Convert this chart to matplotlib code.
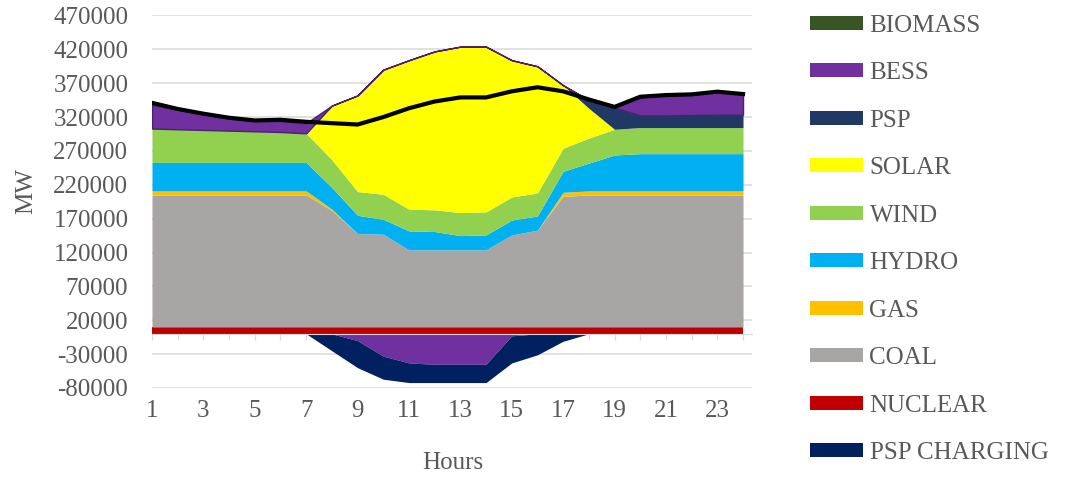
"""
Hourly generation dispatch (stacked areas) with demand line
"""
import matplotlib
matplotlib.use("Agg")
import matplotlib.pyplot as plt
from matplotlib.patches import Patch
import numpy as np

plt.rcParams["font.family"] = ["Liberation Serif", "DejaVu Serif"]
plt.rcParams["axes.unicode_minus"] = False

# ============================================
# DATA (MW per hour)
# ============================================

hours = list(range(1, 25))

nuclear = [10000, 10000, 10000, 10000, 10000, 10000, 10000, 10000, 10000, 10000, 10000, 10000,
           10000, 10000, 10000, 10000, 10000, 10000, 10000, 10000, 10000, 10000, 10000, 10000]
coal = [195000, 195000, 195000, 195000, 195000, 195000, 195000, 172000, 138000, 137000, 114000, 114000,
        114000, 114000, 136000, 143000, 193000, 195000, 195000, 195000, 195000, 195000, 195000, 195000]
gas = [6000, 6000, 6000, 6000, 6000, 6000, 6000, 2000, 0, 0, 0, 0,
       0, 0, 0, 0, 6000, 6000, 6000, 6000, 6000, 6000, 6000, 6000]
hydro = [42000, 42000, 42000, 42000, 42000, 42000, 42000, 32000, 27000, 22000, 28000, 27000,
         21000, 22000, 22000, 21000, 31000, 41000, 53000, 55000, 55000, 55000, 55000, 55000]
wind = [50000, 49000, 48000, 47000, 46000, 45000, 43000, 41000, 35000, 37000, 32000, 32000,
        34000, 34000, 34000, 34000, 34000, 37000, 38000, 38500, 38500, 38500, 38500, 38500]
solar = [0, 0, 0, 0, 0, 0, 0, 80000, 142000, 184000, 220000, 234000,
         245000, 244000, 202000, 187000, 93000, 44000, 0, 0, 0, 0, 0, 0]
psp = [0, 0, 0, 0, 0, 0, 0, 0, 0, 0, 0, 0,
       0, 0, 0, 0, 0, 12000, 32000, 18000, 18000, 18500, 19000, 19000]
bess = [35000, 29000, 23000, 18000, 15000, 16000, 15000, 0, 0, 0, 0, 0,
        0, 0, 0, 0, 0, 0, 0, 27000, 29000, 30000, 33000, 30000]
biomass = [0, 0, 0, 0, 0, 0, 0, 0, 0, 0, 0, 0,
           0, 0, 0, 0, 0, 0, 0, 0, 0, 0, 0, 0]

# storage charging (negative side)
bess_charging = [0, 0, 0, 0, 0, 0, 0, 0, -10000, -33000, -43000, -45000,
                 -45000, -45000, -3000, 0, 0, 0, 0, 0, 0, 0, 0, 0]
psp_charging = [0, 0, 0, 0, 0, 0, 0, -25000, -40000, -34000, -29000, -27000,
                -27000, -27000, -40000, -31000, -11000, 0, 0, 0, 0, 0, 0, 0]

demand = [341000, 332000, 325000, 319000, 315000, 316000, 313000, 311000, 309000, 320000, 333000, 343000,
          349000, 349000, 358000, 364000, 358000, 346000, 335000, 350000, 352500, 353500, 357500, 354000]

TEXT = "#595959"
GRID = "#D9D9D9"
COLORS = {
    "BIOMASS": "#375623",
    "BESS": "#7030A0",
    "PSP": "#203864",
    "SOLAR": "#FFFF00",
    "WIND": "#92D050",
    "HYDRO": "#00B0F0",
    "GAS": "#FFC000",
    "COAL": "#A8A6A5",
    "NUCLEAR": "#C00000",
    "PSP CHARGING": "#002060",
}

# ============================================
# PLOT
# ============================================

fig = plt.figure(figsize=(10.74, 4.79), dpi=100)
ax = fig.add_axes([0.1415, 0.19, 0.5587, 0.7777])

x = np.array(hours)
layers = [("NUCLEAR", nuclear), ("COAL", coal), ("GAS", gas), ("HYDRO", hydro),
          ("WIND", wind), ("SOLAR", solar), ("PSP", psp), ("BESS", bess), ("BIOMASS", biomass)]
base = np.zeros(len(hours))
for name, vals in layers:
    top = base + np.array(vals)
    if name == "BESS":
        ax.fill_between(x, base, top, facecolor=COLORS[name], edgecolor="#4B2070",
                        lw=1.0, zorder=2)
    else:
        ax.fill_between(x, base, top, color=COLORS[name], lw=0, zorder=2)
    base = top

# negative side: battery charging first, pumped storage below it
bc = np.array(bess_charging)
pc = np.array(psp_charging)
ax.fill_between(x, 0, bc, color=COLORS["BESS"], lw=0, zorder=2)
ax.fill_between(x, bc, bc + pc, color=COLORS["PSP CHARGING"], lw=0, zorder=2)

ax.plot(x, demand, color="black", lw=3.0, zorder=4, solid_joinstyle="round")

# axes
ax.set_xlim(1, 24.35)
ax.set_ylim(-80000, 470000)
ax.set_yticks(range(-80000, 470001, 50000))
ax.yaxis.set_major_formatter(matplotlib.ticker.StrMethodFormatter("{x:.0f}"))
ax.grid(axis="y", color=GRID, lw=1.1)
ax.set_axisbelow(True)
for side in ("top", "right", "left"):
    ax.spines[side].set_visible(False)
ax.spines["bottom"].set_position(("data", 0))
ax.spines["bottom"].set_color(GRID)
ax.spines["bottom"].set_zorder(5)

ax.set_xticks(hours)
ax.tick_params(axis="x", direction="out", length=4, color=GRID, labelbottom=False)
ax.tick_params(axis="y", length=0, pad=17, labelsize=18, labelcolor=TEXT)

# hour labels sit at the bottom of the plot, not on the zero axis
sec = ax.secondary_xaxis("bottom")
sec.set_xticks(hours[::2])
sec.tick_params(length=0, pad=9, labelsize=18, labelcolor=TEXT)
sec.spines["bottom"].set_visible(False)

fig.text(26 / 1074, 1 - 191 / 479, "MW", rotation=90, ha="center", va="center",
         fontsize=18, color=TEXT)
fig.text(453 / 1074, 1 - 463 / 479, "Hours", ha="center", va="center",
         fontsize=18, color=TEXT)

# legend
names = ["BIOMASS", "BESS", "PSP", "SOLAR", "WIND", "HYDRO", "GAS", "COAL", "NUCLEAR", "PSP CHARGING"]
handles = [Patch(facecolor=COLORS[n], edgecolor="none") for n in names]
fig.legend(handles, names, loc="upper left", bbox_to_anchor=(810 / 1074, 0.9695),
           frameon=False, fontsize=18, handlelength=2.1, handleheight=0.5,
           handletextpad=0.28, labelspacing=1.02, borderpad=0, borderaxespad=0,
           labelcolor=TEXT)

fig.savefig("out.png", dpi=100)
plt.close(fig)
